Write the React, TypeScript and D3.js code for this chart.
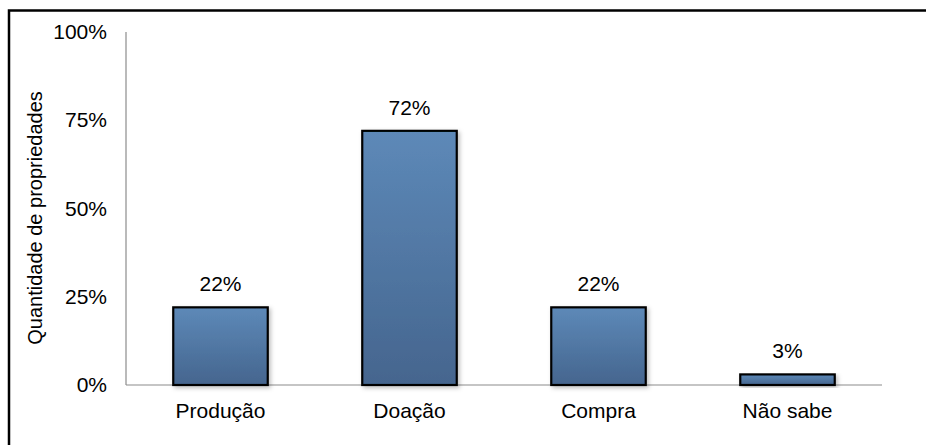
import React from "react";
import * as d3 from "d3";

const categories = ["Produção", "Doação", "Compra", "Não sabe"];
const values = [22, 72, 22, 3];
const yTicks = [0, 25, 50, 75, 100];

const W = 926;
const H = 445;
const left = 126;
const right = 882;
const top = 32;
const bottom = 385;

export default function App() {
  const x = d3.scaleBand<string>().domain(categories).range([left, right]).paddingInner(0.5).paddingOuter(0.25);
  const y = d3.scaleLinear().domain([0, 100]).range([bottom, top]);
  const font = "Liberation Sans, Arial, sans-serif";
  const fs = 21;
  return (
    <svg width={W} height={H} style={{ position: "absolute", left: 0, top: 0 }}>
      <defs>
        <linearGradient id="barGrad" x1="0" y1="0" x2="0" y2="1">
          <stop offset="0%" stopColor="#5d89b8" />
          <stop offset="100%" stopColor="#45658e" />
        </linearGradient>
        <filter id="shadow" x="-10%" y="-10%" width="130%" height="130%">
          <feDropShadow dx="2" dy="2" stdDeviation="2" floodColor="#000" floodOpacity="0.25" />
        </filter>
      </defs>
      <rect x={0} y={0} width={W} height={H} fill="#fff" />
      <rect x={9} y={10.5} width={W + 20} height={H + 20} fill="none" stroke="#000" strokeWidth={2.5} />
      <line x1={left} x2={left} y1={top} y2={bottom} stroke="#8c8c8c" strokeWidth={1.2} />
      <line x1={left} x2={right} y1={bottom} y2={bottom} stroke="#8c8c8c" strokeWidth={1.2} />
      {yTicks.map((t) => (
        <text key={t} x={107} y={y(t) + 7} textAnchor="end" fontFamily={font} fontSize={fs} fill="#000">
          {t}%
        </text>
      ))}
      <text
        transform={`translate(42,218) rotate(-90)`}
        textAnchor="middle"
        fontFamily={font}
        fontSize={20}
        fill="#000"
      >
        Quantidade de propriedades
      </text>
      {categories.map((c, i) => {
        const bx = x(c)!;
        const bw = x.bandwidth();
        const by = y(values[i]);
        return (
          <g key={c}>
            <rect
              x={bx}
              y={by}
              width={bw}
              height={bottom - by}
              fill="url(#barGrad)"
              stroke="#000"
              strokeWidth={2.2}
              filter="url(#shadow)"
            />
            <text x={bx + bw / 2} y={by - 16} textAnchor="middle" fontFamily={font} fontSize={fs} fill="#000">
              {values[i]}%
            </text>
            <text x={bx + bw / 2} y={418} textAnchor="middle" fontFamily={font} fontSize={fs} fill="#000">
              {c}
            </text>
          </g>
        );
      })}
    </svg>
  );
}
